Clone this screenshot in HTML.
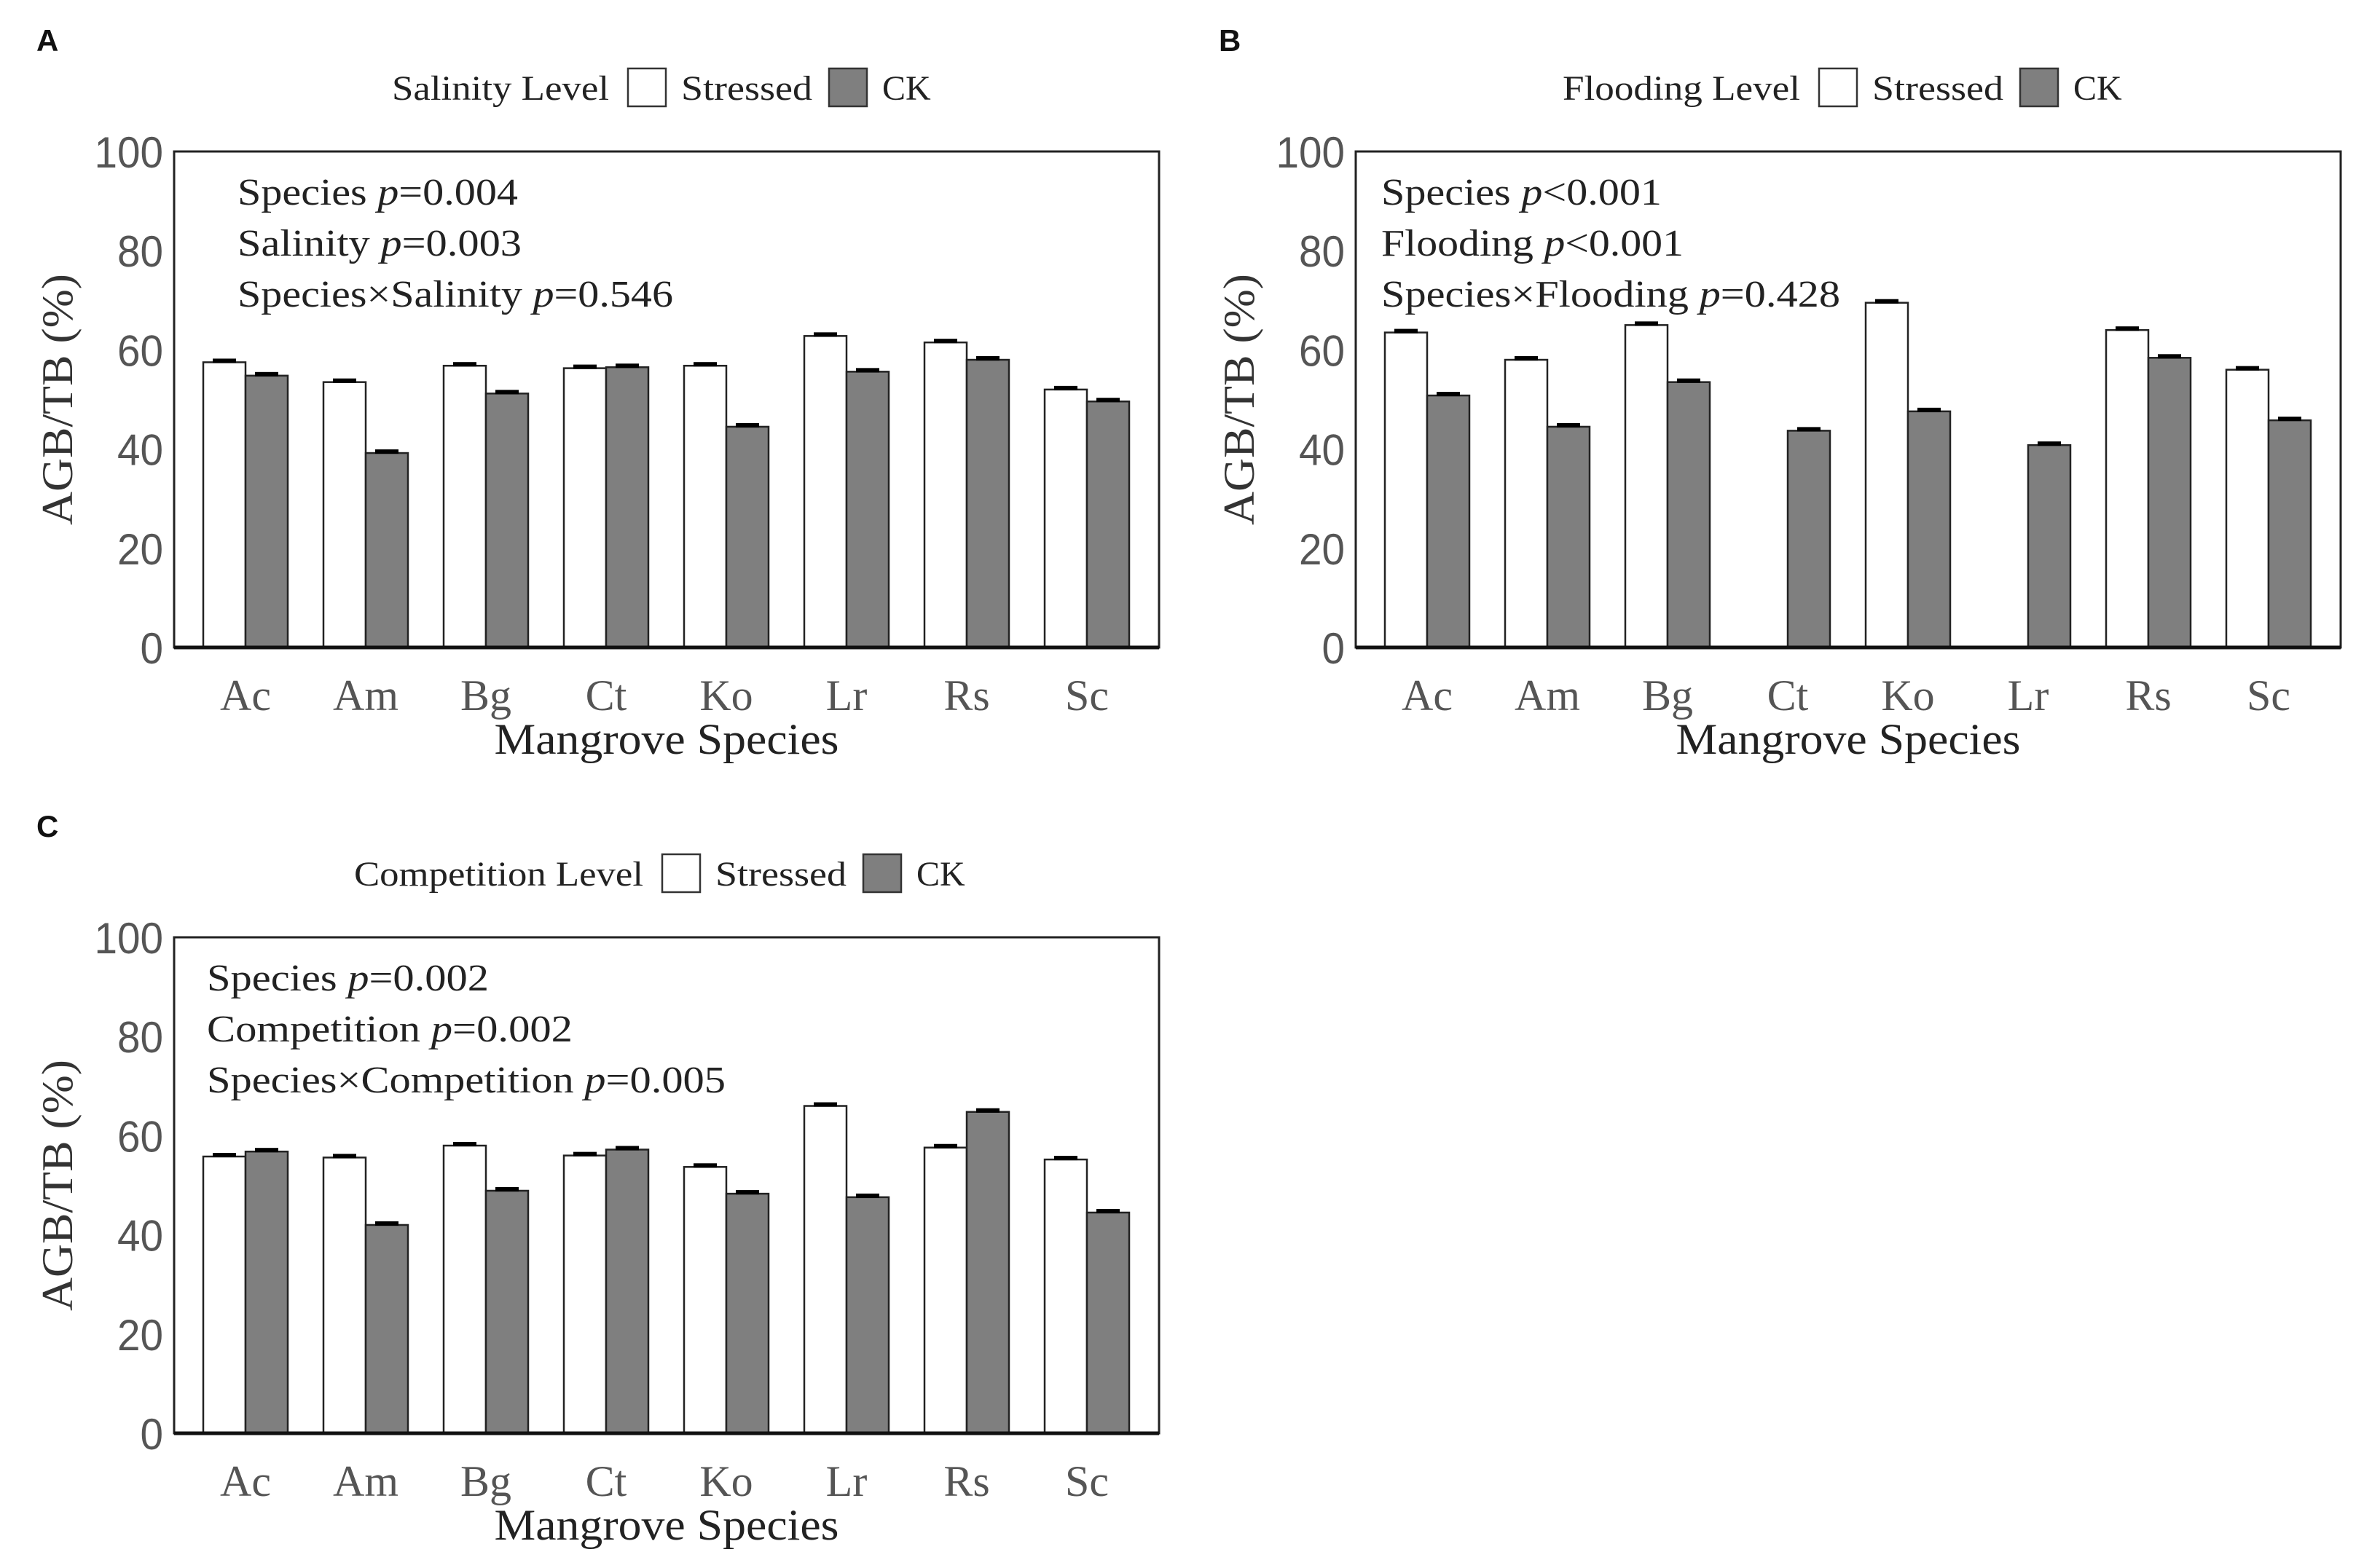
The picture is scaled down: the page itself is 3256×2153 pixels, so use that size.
<!DOCTYPE html>
<html><head><meta charset="utf-8">
<style>
html,body{margin:0;padding:0;background:#fff;}
svg{display:block;}
.serif{font-family:"Liberation Serif",serif;}
.sans{font-family:"Liberation Sans",sans-serif;}
</style></head>
<body>
<svg id="fig" width="3256" height="2153" viewBox="0 0 3256 2153" xmlns="http://www.w3.org/2000/svg"></svg>
<script>
const categories = ["Ac","Am","Bg","Ct","Ko","Lr","Rs","Sc"];
const yTicks = [0,20,40,60,80,100];
const salStressed = [57.5,53.5,56.8,56.3,56.8,62.8,61.5,52.0];
const salCK       = [54.8,39.2,51.2,56.5,44.5,55.6,58.0,49.6];
const floStressed = [63.5,58.0,65.0,0,69.5,0,64.0,56.0];
const floCK       = [50.8,44.5,53.5,43.7,47.6,40.8,58.4,45.8];
const comStressed = [55.8,55.6,58.0,56.0,53.7,66.0,57.6,55.2];
const comCK       = [56.8,42.0,48.9,57.2,48.3,47.6,64.8,44.5];
const salNotes = [["Species ","p","=0.004"],["Salinity ","p","=0.003"],["Species×Salinity ","p","=0.546"]];
const floNotes = [["Species ","p","<0.001"],["Flooding ","p","<0.001"],["Species×Flooding ","p","=0.428"]];
const comNotes = [["Species ","p","=0.002"],["Competition ","p","=0.002"],["Species×Competition ","p","=0.005"]];

const NS="http://www.w3.org/2000/svg";
const svg=document.getElementById('fig');
function mk(tag,attrs,parent){const e=document.createElementNS(NS,tag);for(const k in attrs)e.setAttribute(k,attrs[k]);(parent||svg).appendChild(e);return e;}

function panel(cfg){
  const g=mk('g',{});
  
  
  const L=cfg.left,R=cfg.left+1352,T=cfg.top,B=cfg.top+681;
  const yS=v=>B-(v/100)*(B-T);
  const step=165, off=98, bw=58;
  const xC=i=>L+off+i*step;
  const lt=mk('text',{x:cfg.letterX,y:cfg.top-138,class:'sans','font-size':42,'font-weight':'bold',fill:'#111'},g);
  lt.textContent=cfg.letter;
  
  
  const ly=cfg.top-87;
  const lg=mk('g',{},g);
  
  
  const lt1=mk('text',{x:cfg.legX,y:ly+16,class:'serif','font-size':48,fill:'#222',textLength:cfg.legW,lengthAdjust:'spacingAndGlyphs'},lg);
  lt1.textContent=cfg.legTitle;
  
  
  const bx1=cfg.legX+cfg.legW+26;
  const r1=mk('rect',{x:bx1,y:ly-27,width:52,height:52,fill:'#fff',stroke:'#333','stroke-width':2.5},lg);
  
  
  const t1=mk('text',{x:bx1+73,y:ly+16,class:'serif','font-size':48,fill:'#222',textLength:180,lengthAdjust:'spacingAndGlyphs'},lg);
  t1.textContent='Stressed';
  
  
  const bx2=bx1+276;
  const r2=mk('rect',{x:bx2,y:ly-27,width:52,height:52,fill:'#7f7f7f',stroke:'#333','stroke-width':2.5},lg);
  
  
  const t2=mk('text',{x:bx2+73,y:ly+16,class:'serif','font-size':48,fill:'#222'},lg);
  t2.textContent='CK';
  
  
  for(let i=0;i<categories.length;i++){
    const pairs=[[cfg.s[i],'#fff',xC(i)-bw,'stressed'],[cfg.c[i],'#7f7f7f',xC(i),'ck']];
    for(const [v,fill,x,nm] of pairs){
      if(!v) continue;
      const r=mk('rect',{x:x,y:yS(v),width:bw,height:B-yS(v),fill:fill,stroke:'#222','stroke-width':2.5},g);
      
      
      const e=mk('rect',{x:x+bw/2-16,y:yS(v)-5,width:32,height:6,fill:'#000'},g);
      
      
    }
    const cl=mk('text',{x:xC(i),y:B+86,class:'serif','font-size':60,fill:'#555','text-anchor':'middle'},g);
    cl.textContent=categories[i];
    
    
  }
  const fr=mk('rect',{x:L,y:T,width:R-L,height:B-T,fill:'none',stroke:'#222','stroke-width':3},g);
  
  
  const ax=mk('line',{x1:L,x2:R,y1:B,y2:B,stroke:'#111','stroke-width':5},g);
  
  
  for(const t of yTicks){
    const tl=mk('text',{x:L-15,y:yS(t)+22,class:'sans','font-size':60,fill:'#555','text-anchor':'end',textLength:String(t).length*31.5,lengthAdjust:'spacingAndGlyphs'},g);
    tl.textContent=t;
    
    
  }
  const yt=mk('text',{x:0,y:0,class:'serif','font-size':60,fill:'#333','text-anchor':'middle',transform:`translate(${L-140},${(T+B)/2}) rotate(-90)`,textLength:345,lengthAdjust:'spacingAndGlyphs'},g);
  yt.textContent='AGB/TB (%)';
  
  
  const xt=mk('text',{x:L+676,y:B+146,class:'serif','font-size':60,fill:'#222','text-anchor':'middle',textLength:473,lengthAdjust:'spacingAndGlyphs'},g);
  xt.textContent='Mangrove Species';
  
  
  cfg.notes.forEach((n,k)=>{
    const t=mk('text',{x:cfg.noteX,y:T+73+k*70,class:'serif','font-size':52,fill:'#222',textLength:cfg.noteW[k],lengthAdjust:'spacingAndGlyphs'},g);
    
    
    const a=mk('tspan',{},t);a.textContent=n[0];
    const b=mk('tspan',{'font-style':'italic'},t);b.textContent=n[1];
    const c=mk('tspan',{},t);c.textContent=n[2];
  });
}
panel({id:'salinity',letter:'A',letterX:50,left:239,top:208,s:salStressed,c:salCK,legTitle:'Salinity Level',legX:538,legW:298,notes:salNotes,noteX:326,noteW:[385,390,598]});
panel({id:'flooding',letter:'B',letterX:1673,left:1861,top:208,s:floStressed,c:floCK,legTitle:'Flooding Level',legX:2145,legW:326,notes:floNotes,noteX:1896,noteW:[385,415,630]});
panel({id:'competition',letter:'C',letterX:50,left:239,top:1287,s:comStressed,c:comCK,legTitle:'Competition Level',legX:486,legW:397,notes:comNotes,noteX:284,noteW:[387,502,712]});
</script>
</body></html>
